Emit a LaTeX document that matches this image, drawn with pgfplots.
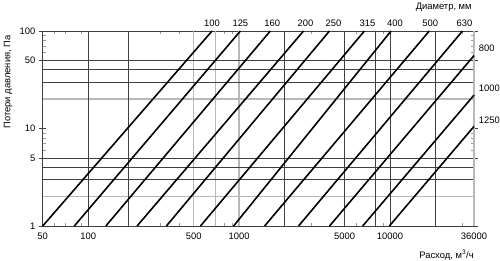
\documentclass[border=0pt]{standalone}
\usepackage{fontspec}
\setmainfont{Liberation Sans}
\usepackage{pgfplots}
\pgfplotsset{compat=1.18}
\definecolor{gridD}{HTML}{404040}
\definecolor{gridL}{HTML}{B8B8B8}
\begin{document}
\fontsize{9.4bp}{11bp}\selectfont
\begin{tikzpicture}
\begin{axis}[
  scale only axis, width=431.3bp, height=195bp,
  xmode=log, ymode=log,
  xmin=50, xmax=36000, ymin=1, ymax=100,
  xtick={50,100,500,1000,5000,10000,36000},
  xticklabels={50,100,500,1000,5000,10000,36000},
  ytick={1,5,10,50,100},
  yticklabels={1,5,10,50,100},
  minor xtick={60,70,90,300,400,800,900,3000,6000,9000,30000},
  minor ytick={6,7,8,9,60,70,80,90},
  tick align=inside, major tick length=3bp, minor tick length=3bp,
  tick style={gridD, line width=0.5bp},
  minor tick style={gray!80},
  extra y ticks={1,5,10,50,100},
  extra y tick labels={,,,,},
  extra y tick style={tick align=outside, major tick length=4bp},
  axis line style={gridD, line width=0.6bp},
  yticklabel style={xshift=-4bp},
  xticklabel style={yshift=-4bp},
  clip=false,
]
% grid lines
\draw[gridL, line width=1.5bp] (500,1) -- (500,100);
\draw[gridL, line width=1.5bp] (700,1) -- (700,100);
\draw[gridL, line width=1.5bp] (1000,1) -- (1000,100);
\draw[gridL, line width=1.5bp] (50,2) -- (36000,2);
\draw[gridL, line width=1.5bp] (50,20) -- (36000,20);
\draw[gridD, line width=0.6bp] (100,1) -- (100,100);
\draw[gridD, line width=0.6bp] (185,1) -- (185,100);
\draw[gridD, line width=0.6bp] (2000,1) -- (2000,100);
\draw[gridD, line width=0.6bp] (5000,1) -- (5000,100);
\draw[gridD, line width=0.6bp] (8000,1) -- (8000,100);
\draw[gridD, line width=0.6bp] (10000,1) -- (10000,100);
\draw[gridD, line width=0.6bp] (20000,1) -- (20000,100);
\draw[gridD, line width=0.6bp] (50,3) -- (36000,3);
\draw[gridD, line width=0.6bp] (50,4) -- (36000,4);
\draw[gridD, line width=0.6bp] (50,5) -- (36000,5);
\draw[gridD, line width=0.6bp] (50,30) -- (36000,30);
\draw[gridD, line width=0.6bp] (50,40) -- (36000,40);
\draw[gridD, line width=0.6bp] (50,50) -- (36000,50);
\draw[gridL, line width=1.5bp] (36000,1) -- (36000,100);
% diameter lines
\addplot[black, line width=1.6bp] coordinates {(50,1) (662,100)} node[pos=1, anchor=south] {100};
\addplot[black, line width=1.6bp] coordinates {(81,1) (1020,100)} node[pos=1, anchor=south] {125};
\addplot[black, line width=1.6bp] coordinates {(131,1) (1610,100)} node[pos=1, anchor=south, xshift=2bp] {160};
\addplot[black, line width=1.6bp] coordinates {(211,1) (2673,100)} node[pos=1, anchor=south, xshift=2bp] {200};
\addplot[black, line width=1.6bp] coordinates {(330,1) (3970,100)} node[pos=1, anchor=south, xshift=4bp] {250};
\addplot[black, line width=1.6bp] coordinates {(555,1) (6766,100)} node[pos=1, anchor=south, xshift=3bp] {315};
\addplot[black, line width=1.6bp] coordinates {(920,1) (10160,100)} node[pos=1, anchor=south, xshift=4bp] {400};
\addplot[black, line width=1.6bp] coordinates {(1476,1) (18200,100)} node[pos=1, anchor=south, xshift=1bp] {500};
\addplot[black, line width=1.6bp] coordinates {(2477,1) (30200,100)} node[pos=1, anchor=south, xshift=2bp] {630};
\addplot[black, line width=1.6bp] coordinates {(3975,1) (36000,56)} node[pos=1, anchor=west, xshift=1bp, yshift=7bp] {800};
\addplot[black, line width=1.6bp] coordinates {(6590,1) (36000,22)} node[pos=1, anchor=west, xshift=1bp, yshift=7bp] {1000};
\addplot[black, line width=1.6bp] coordinates {(9900,1) (36000,10.5)} node[pos=1, anchor=west, xshift=1bp, yshift=6bp] {1250};
% texts
\node[anchor=east, xshift=1bp, yshift=24bp] at (rel axis cs:1,1) {Диаметр, мм};
\node[anchor=east, xshift=3bp, yshift=-29bp] at (rel axis cs:1,0) {Расход, м\textsuperscript{3}/ч};
\coordinate (O) at (rel axis cs:0,0);
\coordinate (T) at (rel axis cs:0,1);
\end{axis}
\node[xshift=-34.7bp, yshift=-1bp, rotate=90, anchor=east] at (T) {Потери давления, Па};
\pgfresetboundingbox
\path (O) ++(-42.7bp,-35bp) rectangle ++(500bp,261bp);
\end{tikzpicture}
\end{document}
